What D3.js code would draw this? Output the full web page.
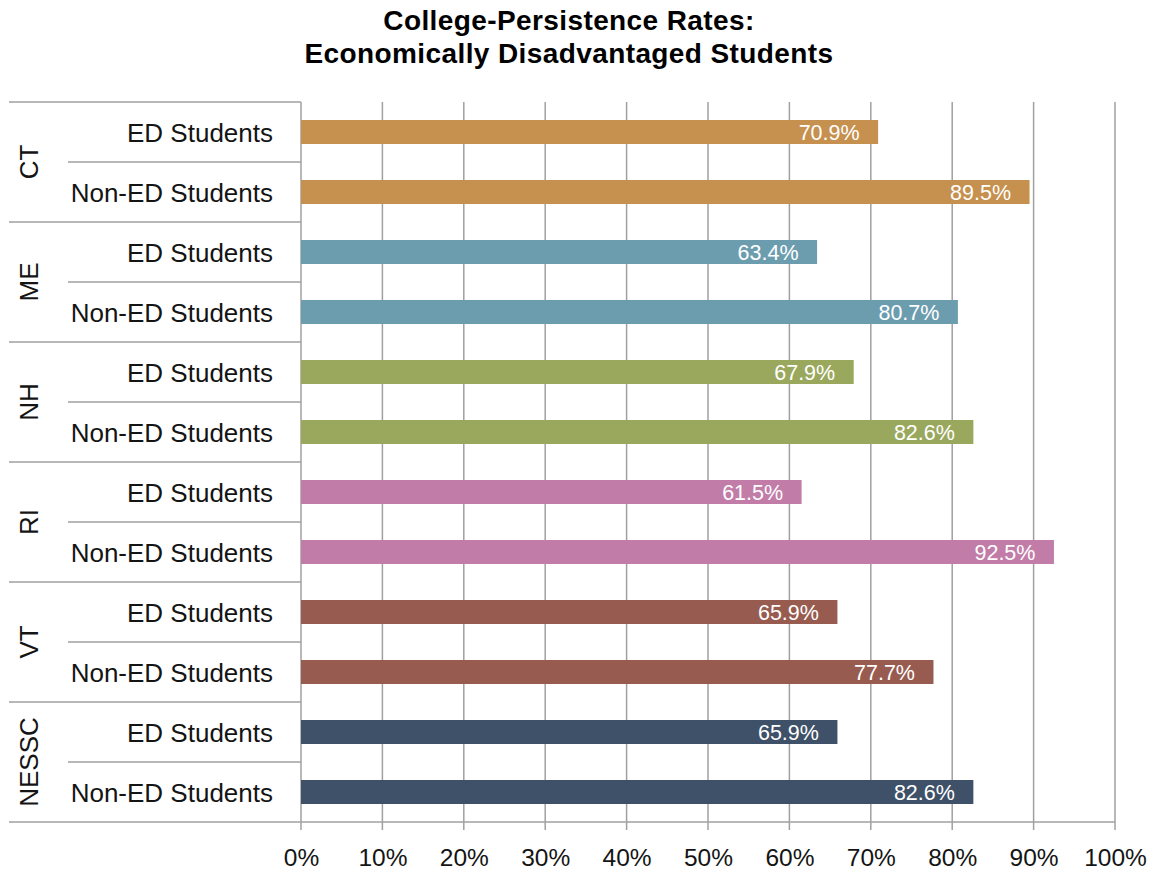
<!DOCTYPE html>
<html>
<head>
<meta charset="utf-8">
<script src="https://cdn.jsdelivr.net/npm/d3@7"></script>
<style>
  html, body { margin: 0; padding: 0; background: #fff; }
  svg { display: block; font-family: "Liberation Sans", Arial, Helvetica, sans-serif; }
</style>
</head>
<body>
<svg id="chart" width="1156" height="871"></svg>
<script>
// States / regions, in display order
const groups = ["CT", "ME", "NH", "RI", "VT", "NESSC"];
const subgroups = ["ED Students", "Non-ED Students"];
// Persistence rates (%) per group: [ED, Non-ED]
const edRates = [70.9, 63.4, 67.9, 61.5, 65.9, 65.9];
const nonEdRates = [89.5, 80.7, 82.6, 92.5, 77.7, 82.6];
const groupColors = ["#C6904E", "#6C9DAF", "#9AA85E", "#C27CA8", "#985B50", "#3E5168"];
const xTicks = [0, 10, 20, 30, 40, 50, 60, 70, 80, 90, 100];

const rows = [];
groups.forEach((g, i) => {
  rows.push({ group: g, sub: subgroups[0], value: edRates[i], color: groupColors[i] });
  rows.push({ group: g, sub: subgroups[1], value: nonEdRates[i], color: groupColors[i] });
});
rows.forEach((r, i) => r.key = i);

const svg = d3.select("#chart");
const plotLeft = 301, plotRight = 1115, plotTop = 102, plotBottom = 822;

const x = d3.scaleLinear().domain([0, 100]).range([plotLeft, plotRight]);
const y = d3.scaleBand().domain(rows.map(r => r.key)).range([plotTop, plotBottom]).paddingInner(0.6).paddingOuter(0.3);
const rowBand = d3.scaleBand().domain(rows.map(r => r.key)).range([plotTop, plotBottom]);
const groupBand = d3.scaleBand().domain(groups).range([plotTop, plotBottom]);

const gridColor = "#A0A0A0";
const textColor = "#141414";

// Title
const title = svg.append("text")
  .attr("text-anchor", "middle")
  .style("font-weight", "bold").style("font-size", "28px").style("letter-spacing", "0.4px")
  .attr("fill", "#000");
title.append("tspan").attr("x", 569).attr("y", 30).text("College-Persistence Rates:");
title.append("tspan").attr("x", 569).attr("y", 63).text("Economically Disadvantaged Students");

// Vertical gridlines (extend slightly below as tick marks)
svg.append("g").selectAll("line").data(xTicks).join("line")
  .attr("x1", d => x(d)).attr("x2", d => x(d))
  .attr("y1", plotTop).attr("y2", plotBottom + 8)
  .attr("stroke", gridColor).attr("stroke-width", 1.5);

// Bottom axis line
svg.append("line").attr("x1", plotLeft).attr("x2", plotRight).attr("y1", plotBottom).attr("y2", plotBottom)
  .attr("stroke", gridColor).attr("stroke-width", 1.5);

// X-axis labels
const xAxis = d3.axisBottom(x).tickValues(xTicks).tickFormat(d => d + "%").tickSize(0).tickPadding(0);
const xg = svg.append("g").attr("transform", `translate(0,${plotBottom})`).call(xAxis);
xg.select(".domain").remove();
xg.selectAll("text").attr("dy", null).attr("y", 44)
  .style("font-size", "24.5px").style("font-family", "Liberation Sans, Arial, sans-serif")
  .attr("fill", textColor);

// Group separators (full width of label area)
const groupEdges = groups.map(g => groupBand(g)).concat([plotBottom]);
svg.append("g").selectAll("line").data(groupEdges).join("line")
  .attr("x1", 9).attr("x2", plotLeft).attr("y1", d => d).attr("y2", d => d)
  .attr("stroke", gridColor).attr("stroke-width", 1.5);

// Sub-row separators (within a group)
svg.append("g").selectAll("line").data(groups).join("line")
  .attr("x1", 68).attr("x2", plotLeft)
  .attr("y1", g => groupBand(g) + groupBand.bandwidth() / 2)
  .attr("y2", g => groupBand(g) + groupBand.bandwidth() / 2)
  .attr("stroke", gridColor).attr("stroke-width", 1.5);

// Bars
svg.append("g").selectAll("rect").data(rows).join("rect")
  .attr("x", x(0)).attr("y", d => y(d.key))
  .attr("width", d => x(d.value) - x(0)).attr("height", y.bandwidth())
  .attr("fill", d => d.color);

// Value labels inside the bars
svg.append("g").selectAll("text").data(rows).join("text")
  .attr("x", d => x(d.value) - 18.5).attr("y", d => y(d.key) + y.bandwidth() / 2 + 8)
  .attr("text-anchor", "end")
  .style("font-size", "21.5px").attr("fill", "#fff")
  .text(d => d.value.toFixed(1) + "%");

// Sub-row labels
svg.append("g").selectAll("text").data(rows).join("text")
  .attr("x", 273).attr("y", d => rowBand(d.key) + rowBand.bandwidth() / 2 + 10)
  .attr("text-anchor", "end")
  .style("font-size", "26px").attr("fill", textColor)
  .text(d => d.sub);

// Group labels, rotated
svg.append("g").selectAll("text").data(groups).join("text")
  .attr("transform", g => `translate(38,${groupBand(g) + groupBand.bandwidth() / 2}) rotate(-90)`)
  .attr("text-anchor", "middle")
  .style("font-size", "26px").attr("fill", textColor)
  .text(g => g);
</script>
</body>
</html>
